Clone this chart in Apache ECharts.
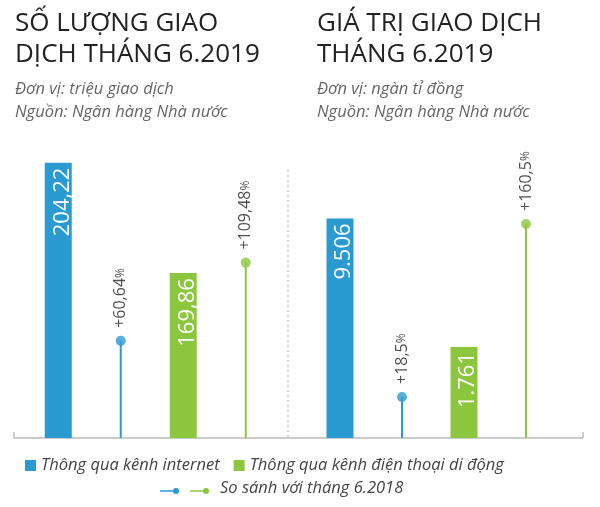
<!DOCTYPE html>
<html><head><meta charset="utf-8">
<script src="https://cdn.jsdelivr.net/npm/echarts@6/dist/echarts.min.js"></script>
<style>html,body{margin:0;padding:0;background:#fff}#c{width:600px;height:507px}</style>
</head><body><div id="c"></div>
<script>
// Left panel: transactions count (million), right panel: value (thousand billion VND)
const countBars = { internet: 204.22, mobile: 169.86 };
const countGrowth = { internet: 60.64, mobile: 109.48 };
const valueBars = { internet: 9.506, mobile: 1.761 };
const valueGrowth = { internet: 18.5, mobile: 160.5 };
const slots = ['a', 'b', 'c', 'd'];
// infographic is not drawn to one scale: each mark gets its own hidden axis max
const leftMax = [221, 307, 186, 186];
const rightMax = [12.9, 5.77, 134.5, 223.5];

const BLUE = '#2a9bd1', GREEN = '#8cc63f';
const fmt = (v, d) => v.toFixed(d).replace('.', ',');

const chart = echarts.init(document.getElementById('c'));

function yAxes(grid, maxes) {
  return maxes.map(m => ({ gridIndex: grid, type: 'value', min: 0, max: m, show: false }));
}

// each grid has two x axes: one for wide bars, one for the thin stems
function panel(grid, y0, bars, growth, barText, growthText) {
  const put = (i, v) => slots.map((_, k) => (k === i ? v : '-'));
  const bx = grid * 2, sx = grid * 2 + 1;
  const barLabel = txt => ({
    show: true, position: 'insideTop', rotate: 90, align: 'right', verticalAlign: 'middle',
    offset: [0, 4], color: '#fff', fontSize: 22, fontFamily: 'Open Sans', formatter: txt
  });
  const stem = (i, v, c, ax) => ({
    type: 'bar', xAxisIndex: sx, yAxisIndex: ax, data: put(i, v), barWidth: 2,
    barGap: '-100%', itemStyle: { color: c }, silent: true
  });
  const dot = (i, v, c, ax, txt) => ({
    type: 'scatter', xAxisIndex: sx, yAxisIndex: ax, data: put(i, v), symbolSize: 10,
    itemStyle: { color: c },
    label: {
      show: true, position: 'top', rotate: 90, align: 'left', verticalAlign: 'middle',
      distance: 8, color: '#222', fontFamily: 'Open Sans', formatter: '{a|' + txt + '}{b|%}',
      rich: { a: { fontSize: 16, color: '#222' }, b: { fontSize: 12, color: '#222' } }
    }
  });
  return [
    { name: 'Thông qua kênh internet', type: 'bar', xAxisIndex: bx, yAxisIndex: y0, data: put(0, bars.internet),
      barWidth: 27, barGap: '-100%', itemStyle: { color: BLUE }, label: barLabel(barText[0]) },
    stem(1, growth.internet, BLUE, y0 + 2),
    dot(1, growth.internet, BLUE, y0 + 2, growthText[0]),
    { name: 'Thông qua kênh điện thoại di động', type: 'bar', xAxisIndex: bx, yAxisIndex: y0 + 1, data: put(2, bars.mobile),
      barWidth: 27, barGap: '-100%', itemStyle: { color: GREEN }, label: barLabel(barText[1]) },
    stem(3, growth.mobile, GREEN, y0 + 3),
    dot(3, growth.mobile, GREEN, y0 + 3, growthText[1])
  ];
}

const titleStyle = { fontSize: 26, fontFamily: 'Open Sans', fontWeight: 500, color: '#222', lineHeight: 31 };
const subStyle = { fontSize: 16.5, fontFamily: 'Open Sans', fontStyle: 'italic', color: '#666', lineHeight: 23 };

chart.setOption({
  animation: false,
  title: [
    { text: 'SỐ LƯỢNG GIAO\nDỊCH THÁNG 6.2019', left: 10, top: 3, textStyle: titleStyle,
      subtext: 'Đơn vị: triệu giao dịch\nNguồn: Ngân hàng Nhà nước', subtextStyle: subStyle, itemGap: 8 },
    { text: 'GIÁ TRỊ GIAO DỊCH\nTHÁNG 6.2019', left: 312, top: 3, textStyle: titleStyle,
      subtext: 'Đơn vị: ngàn tỉ đồng\nNguồn: Ngân hàng Nhà nước', subtextStyle: subStyle, itemGap: 8 }
  ],
  legend: {
    data: ['Thông qua kênh internet', 'Thông qua kênh điện thoại di động'],
    left: 20, top: 452, itemWidth: 11, itemHeight: 11, itemGap: 14, icon: 'rect',
    textStyle: { fontSize: 16.5, fontFamily: 'Open Sans', fontStyle: 'italic', color: '#444' }
  },
  grid: [
    { left: 27, width: 250, top: 140, bottom: 69 },
    { left: 309, width: 248, top: 140, bottom: 69 }
  ],
  xAxis: [0, 0, 1, 1].map(g => ({ gridIndex: g, type: 'category', data: slots, show: false })),
  yAxis: [...yAxes(0, leftMax), ...yAxes(1, rightMax)],
  series: [
    ...panel(0, 0, countBars, countGrowth, [fmt(countBars.internet, 2), fmt(countBars.mobile, 2)],
      ['+' + fmt(countGrowth.internet, 2), '+' + fmt(countGrowth.mobile, 2)]),
    ...panel(1, 4, valueBars, valueGrowth, [valueBars.internet.toFixed(3), valueBars.mobile.toFixed(3)],
      ['+' + fmt(valueGrowth.internet, 1), '+' + fmt(valueGrowth.mobile, 1)])
  ],
  graphic: [
    { type: 'line', shape: { x1: 14, y1: 438, x2: 583, y2: 438 }, style: { stroke: '#999', lineWidth: 1 } },
    { type: 'line', shape: { x1: 14, y1: 432, x2: 14, y2: 438 }, style: { stroke: '#999' } },
    { type: 'line', shape: { x1: 583, y1: 432, x2: 583, y2: 438 }, style: { stroke: '#999' } },
    { type: 'line', shape: { x1: 288, y1: 170, x2: 288, y2: 438 }, style: { stroke: '#aaa', lineDash: [2, 3] } },
    { type: 'line', shape: { x1: 160, y1: 491, x2: 175, y2: 491 }, style: { stroke: BLUE, lineWidth: 1.5 } },
    { type: 'circle', shape: { cx: 176, cy: 491, r: 3 }, style: { fill: BLUE } },
    { type: 'line', shape: { x1: 190, y1: 491, x2: 205, y2: 491 }, style: { stroke: GREEN, lineWidth: 1.5 } },
    { type: 'circle', shape: { cx: 206, cy: 491, r: 3 }, style: { fill: GREEN } },
    { type: 'text', left: 220, top: 480, style: { text: 'So sánh với tháng 6.2018', fontSize: 16.5,
      fontFamily: 'Open Sans', fontStyle: 'italic', fill: '#444' } }
  ]
});
</script></body></html>
